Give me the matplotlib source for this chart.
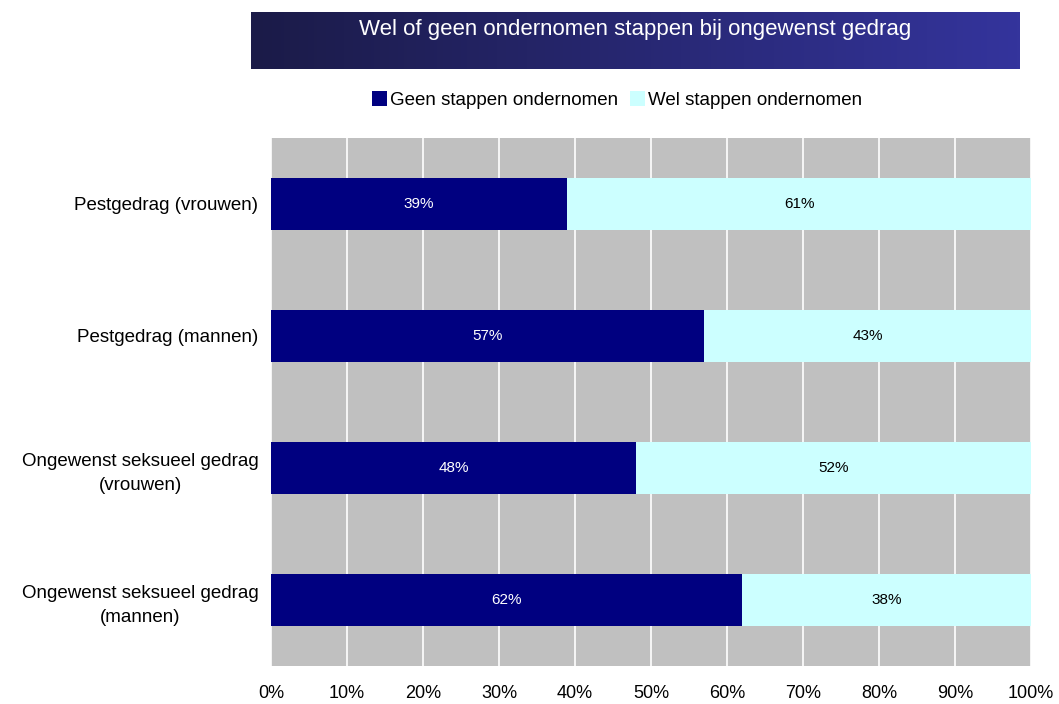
import matplotlib
matplotlib.use("Agg")
import matplotlib.pyplot as plt
import numpy as np
from matplotlib.colors import LinearSegmentedColormap

categories = ["Pestgedrag (vrouwen)", "Pestgedrag (mannen)",
              "Ongewenst seksueel gedrag\n(vrouwen)", "Ongewenst seksueel gedrag\n(mannen)"]
geen = [39, 57, 48, 62]
wel = [61, 43, 52, 38]
series_names = ["Geen stappen ondernomen", "Wel stappen ondernomen"]
xticks = [0, 10, 20, 30, 40, 50, 60, 70, 80, 90, 100]
title = "Wel of geen ondernomen stappen bij ongewenst gedrag"

plt.rcParams['font.family'] = ['Liberation Sans Narrow', 'Liberation Sans', 'DejaVu Sans']

fig = plt.figure(figsize=(10.59, 7.04), dpi=100)
fig.patch.set_facecolor("white")

# title box with gradient
tax = fig.add_axes([251/1059, 1-69/704, (1020-251)/1059, 57/704])
cmap = LinearSegmentedColormap.from_list("g", ["#1b1b48", "#34349c"])
tax.imshow(np.linspace(0, 1, 256).reshape(1, -1), aspect="auto", cmap=cmap, extent=[0, 1, 0, 1])
tax.set_xlim(0, 1); tax.set_ylim(0, 1)
tax.axis("off")
tax.text(0.5, 0.70, title, color="white", ha="center", va="center", fontsize=16)

ax = fig.add_axes([271/1059, 1-666/704, 760/1059, 528/704])
ax.set_facecolor("#C0C0C0")
y = np.arange(len(categories))
h = 0.4
b1 = ax.barh(y, geen, height=h, color="#000080", label=series_names[0], zorder=3)
b2 = ax.barh(y, wel, left=geen, height=h, color="#CCFFFF", label=series_names[1], zorder=3)
for i in range(len(categories)):
    ax.text(geen[i]/2, y[i], f"{geen[i]}%", color="white", ha="center", va="center", fontsize=11, zorder=4)
    ax.text(geen[i] + wel[i]/2, y[i], f"{wel[i]}%", color="black", ha="center", va="center", fontsize=11, zorder=4)

ax.set_xlim(0, 100)
ax.set_ylim(len(categories) - 0.5, -0.5)
ax.set_xticks(xticks)
ax.set_xticklabels([f"{t}%" for t in xticks], fontsize=13)
ax.set_yticks(y)
ax.set_yticklabels(categories, fontsize=13.5, multialignment="center", linespacing=1.5)
ax.tick_params(axis="both", length=0)
ax.tick_params(axis="x", pad=14)
ax.tick_params(axis="y", pad=9)
ax.xaxis.grid(True, color="white", linewidth=1.2, zorder=1)
ax.set_axisbelow(True)
for s in ax.spines.values():
    s.set_visible(False)

fig.legend(handles=[b1, b2], labels=series_names, loc="center", bbox_to_anchor=(617/1059, 1-100/704),
           ncol=2, frameon=False, fontsize=13.5, handlelength=0.8, handleheight=0.8,
           handletextpad=0.2, columnspacing=0.6)

fig.savefig("out.png", dpi=100)
